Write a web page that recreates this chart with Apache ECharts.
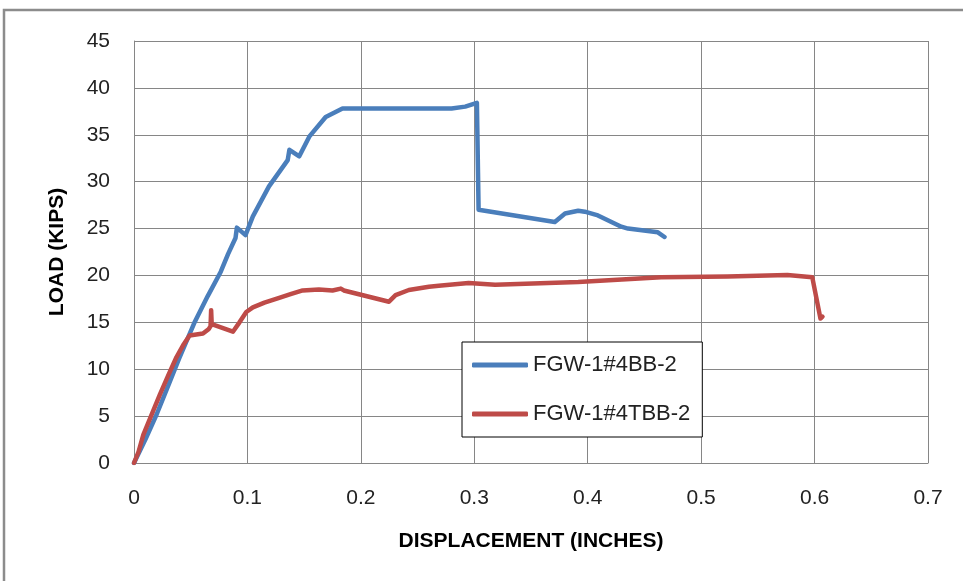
<!DOCTYPE html>
<html>
<head>
<meta charset="utf-8">
<script src="https://cdn.jsdelivr.net/npm/echarts@6/dist/echarts.min.js"></script>
<style>
  html, body { margin: 0; padding: 0; background: #fff; }
  #chart { width: 963px; height: 581px; }
</style>
</head>
<body>
<div id="chart"></div>
<script>
// series names
var seriesNames = ['FGW-1#4BB-2', 'FGW-1#4TBB-2'];

// FGW-1#4BB-2 (blue)
var blueDisp = [0, 0.01, 0.02, 0.03, 0.04, 0.053, 0.065, 0.0765, 0.083, 0.0895, 0.0907, 0.0983,
    0.1048, 0.119, 0.1355, 0.137, 0.1457, 0.1545, 0.169, 0.1838, 0.28, 0.292, 0.3023, 0.3038,
    0.371, 0.38, 0.3916, 0.3974, 0.409, 0.4296, 0.4355, 0.4618, 0.4677];
var blueLoad = [0, 2.5, 5.2, 8.2, 11.2, 14.9, 17.8, 20.4, 22.3, 24.0, 25.1, 24.3,
    26.3, 29.5, 32.3, 33.4, 32.7, 34.8, 36.9, 37.8, 37.8, 38.0, 38.4, 27.0,
    25.7, 26.6, 26.9, 26.8, 26.4, 25.2, 25.0, 24.6, 24.1];

// FGW-1#4TBB-2 (red)
var redDisp = [0, 0.004, 0.0082, 0.015, 0.0228, 0.03, 0.0375, 0.044, 0.049, 0.0608, 0.066, 0.0675,
    0.068, 0.0685, 0.0872, 0.093, 0.099, 0.1048, 0.115, 0.128, 0.138, 0.1487, 0.163, 0.175,
    0.1823, 0.185, 0.2248, 0.2306, 0.2423, 0.26, 0.2687, 0.295, 0.3184, 0.3916, 0.4647,
    0.5233, 0.576, 0.598, 0.6052, 0.607];
var redLoad = [0, 1.2, 3.0, 5.0, 7.3, 9.3, 11.3, 12.7, 13.6, 13.8, 14.3, 14.6,
    16.3, 14.8, 14.0, 15.0, 16.1, 16.6, 17.1, 17.6, 18.0, 18.4, 18.5, 18.4,
    18.6, 18.4, 17.2, 17.9, 18.45, 18.8, 18.9, 19.2, 19.0, 19.3, 19.8,
    19.9, 20.05, 19.8, 15.4, 15.6];

function pairs(xs, ys) {
    var out = [];
    for (var i = 0; i < xs.length; i++) out.push([xs[i], ys[i]]);
    return out;
}

var myChart = echarts.init(document.getElementById('chart'));
var font = 'Liberation Sans, Arial, sans-serif';
var gridColor = '#868686';

var option = {
    animation: false,
    backgroundColor: '#fff',
    textStyle: { fontFamily: font },
    graphic: [
        {
            type: 'rect',
            shape: { x: 4, y: 10, width: 1100, height: 700 },
            style: { fill: null, stroke: '#8c8c8c', lineWidth: 2.5 },
            silent: true
        }
    ],
    grid: { left: 134, right: 35, top: 41, bottom: 118 },
    legend: {
        left: 462, top: 342,
        orient: 'vertical',
        data: seriesNames,
        icon: 'roundRect',
        backgroundColor: '#fff',
        borderColor: '#000',
        borderWidth: 1,
        padding: [12, 12, 12, 10],
        itemWidth: 56,
        itemHeight: 5,
        itemGap: 27,
        textStyle: { fontSize: 22, color: '#222', fontFamily: font }
    },
    xAxis: {
        type: 'value',
        min: 0, max: 0.7, interval: 0.1,
        name: 'DISPLACEMENT (INCHES)',
        nameLocation: 'middle',
        nameGap: 68,
        nameTextStyle: { fontSize: 21, fontWeight: 'bold', color: '#000' },
        axisLine: { show: true, lineStyle: { color: gridColor } },
        axisTick: { show: false },
        axisLabel: { fontSize: 21, color: '#222', margin: 25 },
        splitLine: { show: true, lineStyle: { color: gridColor, width: 1 } }
    },
    yAxis: {
        type: 'value',
        min: 0, max: 45, interval: 5,
        name: 'LOAD (KIPS)',
        nameLocation: 'middle',
        nameGap: 66,
        nameTextStyle: { fontSize: 21, fontWeight: 'bold', color: '#000' },
        axisLine: { show: true, lineStyle: { color: gridColor } },
        axisTick: { show: false },
        axisLabel: { fontSize: 21, color: '#222', margin: 24 },
        splitLine: { show: true, lineStyle: { color: gridColor, width: 1 } }
    },
    series: [
        {
            name: seriesNames[0],
            type: 'line',
            data: pairs(blueDisp, blueLoad),
            symbol: 'none',
            color: '#4a7ebb',
            lineStyle: { width: 4.5, color: '#4a7ebb', cap: 'round', join: 'round' }
        },
        {
            name: seriesNames[1],
            type: 'line',
            data: pairs(redDisp, redLoad),
            symbol: 'none',
            color: '#be4b48',
            lineStyle: { width: 4.5, color: '#be4b48', cap: 'round', join: 'round' }
        }
    ]
};

myChart.setOption(option);
</script>
</body>
</html>
